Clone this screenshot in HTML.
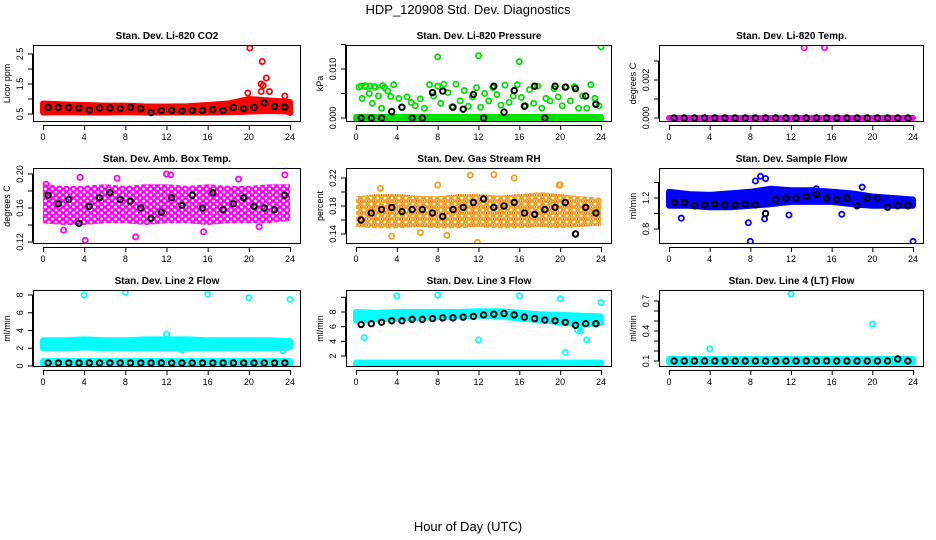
<!DOCTYPE html>
<html><head><meta charset="utf-8"><style>
html,body{margin:0;padding:0;background:#fff}
svg{display:block;font-family:"Liberation Sans",Arial,sans-serif}
</style></head><body>
<svg id="chart" width="936" height="540" viewBox="0 0 936 540" xmlns="http://www.w3.org/2000/svg">
<defs id="defs"></defs>
<text x="468" y="14" text-anchor="middle" font-size="13">HDP_120908  Std. Dev. Diagnostics</text>
<text x="468" y="531" text-anchor="middle" font-size="13">Hour of Day (UTC)</text>
</svg>
<script>
const xTicks=[0,4,8,12,16,20,24];
const bandHours=[0,2,4,6,8,10,12,14,16,18,20,22,24];
const meanHours=[0.5,1.5,2.5,3.5,4.5,5.5,6.5,7.5,8.5,9.5,10.5,11.5,12.5,13.5,14.5,15.5,16.5,17.5,18.5,19.5,20.5,21.5,22.5,23.5];

// Panel 1 CO2
const co2Lo=[0.55,0.56,0.55,0.55,0.56,0.55,0.55,0.55,0.55,0.56,0.58,0.6,0.58];
const co2Hi=[0.85,0.82,0.8,0.78,0.78,0.75,0.75,0.76,0.8,0.85,1.0,0.95,0.9];
const co2Mean=[0.72,0.72,0.72,0.7,0.63,0.7,0.7,0.68,0.72,0.68,0.55,0.62,0.62,0.6,0.62,0.62,0.65,0.62,0.72,0.68,0.72,0.87,0.75,0.73];
const co2OutX=[19.9,20.1,21.2,21.3,21.4,21.7,22,21.2,23.5,24];
const co2OutY=[1.2,2.7,1.5,2.25,1.45,1.7,1.25,1.25,1.1,0.55];
// Panel 2 Pressure
const presLo=[-0.0002,-0.0002,-0.0002,-0.0002,-0.0002,-0.0002,-0.0002,-0.0002,-0.0002,-0.0002,-0.0002,-0.0002,-0.0002];
const presHi=[0.0002,0.0002,0.0002,0.0002,0.0002,0.0002,0.0002,0.0002,0.0002,0.0002,0.0002,0.0002,0.0002];
const presMean=[0,0,0,0.0013,0.0022,0,0,0.0052,0.0055,0.0022,0.0018,0.0048,0,0.0065,0.0012,0.0056,0.0024,0.0065,0,0.0065,0.0063,0.006,0.0045,0.0028];
const presOutX=[0.3,0.6,1,1.3,1.6,1.9,2.2,2.5,2.8,3.1,3.4,3.7,4.2,4.5,5,5.4,5.8,6.3,6.7,7.2,7.6,8,8.3,8.6,9,9.4,9.8,10.2,10.6,11,11.4,11.8,12.2,12.6,13,13.4,13.8,14.2,14.6,15,15.4,15.8,16.2,16.6,17,17.4,17.8,18.2,18.6,19,19.4,19.8,20.2,20.6,21,21.4,21.8,22.2,22.6,23,23.4,23.8,8,12,16,24,0.5,0.9,1.4,1.8,2.6];
const presOutY=[0.0063,0.004,0.0064,0.005,0.003,0.0063,0.0045,0.002,0.0062,0.0055,0.0044,0.0068,0.004,0.0022,0.0043,0.0032,0.0025,0.0039,0.002,0.0068,0.0045,0.0065,0.003,0.0069,0.0052,0.0023,0.0069,0.0035,0.0056,0.0024,0.0043,0.0062,0.0022,0.005,0.0035,0.0062,0.0048,0.0026,0.0067,0.0032,0.0045,0.0068,0.0042,0.0025,0.0058,0.003,0.0065,0.002,0.004,0.0035,0.006,0.0043,0.0025,0.0063,0.0035,0.0064,0.002,0.0045,0.002,0.0068,0.004,0.0025,0.0125,0.0127,0.0115,0.0145,0.0065,0.0066,0.0065,0.0064,0.0066];
// Panel 3 Temp
const tempLo=[0,0,0,0,0,0,0,0,0,0,0,0,0];
const tempHi=[0,0,0,0,0,0,0,0,0,0,0,0,0];
const tempMean=[0,0,0,0,0,0,0,0,0,0,0,0,0,0,0,0,0,0,0,0,0,0,0,0];
const tempOutX=[13.3,15.3];
const tempOutY=[0.0037,0.0037];
// Panel 4 Amb Box Temp
const ambLo=[0.142,0.14,0.14,0.142,0.142,0.14,0.142,0.142,0.14,0.142,0.142,0.142,0.145];
const ambHi=[0.188,0.186,0.186,0.188,0.186,0.188,0.188,0.186,0.188,0.186,0.186,0.188,0.188];
const ambMean=[0.175,0.165,0.170,0.142,0.162,0.172,0.178,0.170,0.168,0.160,0.148,0.155,0.172,0.163,0.175,0.160,0.178,0.158,0.165,0.172,0.162,0.160,0.158,0.175];
const ambOutX=[0.3,3.6,7.2,12,12.4,19,23.5,4.1,9,15.6,2,21];
const ambOutY=[0.188,0.196,0.195,0.200,0.199,0.194,0.199,0.122,0.126,0.132,0.134,0.138];
// Panel 5 RH
const rhLo=[0.150,0.148,0.148,0.150,0.148,0.148,0.150,0.148,0.148,0.150,0.148,0.150,0.152];
const rhHi=[0.194,0.197,0.197,0.195,0.194,0.197,0.197,0.195,0.197,0.2,0.197,0.194,0.192];
const rhMean=[0.160,0.170,0.175,0.178,0.172,0.175,0.175,0.170,0.165,0.175,0.178,0.185,0.190,0.178,0.180,0.185,0.170,0.168,0.175,0.178,0.185,0.140,0.178,0.170];
const rhOutX=[2.4,8,11.2,13.5,15.5,20,3.5,6.3,8.9,11.9,19.9];
const rhOutY=[0.205,0.21,0.224,0.225,0.22,0.21,0.137,0.142,0.138,0.128,0.21];
// Panel 6 Sample Flow
const flowLo=[1.1,1.1,1.08,1.08,1.1,1.12,1.15,1.15,1.15,1.12,1.1,1.1,1.1];
const flowHi=[1.28,1.25,1.24,1.26,1.28,1.32,1.3,1.3,1.28,1.26,1.22,1.2,1.18];
const flowMean=[1.14,1.14,1.1,1.11,1.12,1.11,1.11,1.12,1.11,1.0,1.18,1.2,1.2,1.22,1.25,1.2,1.18,1.2,1.1,1.2,1.2,1.08,1.1,1.1];
const flowOutX=[8,24,1.2,7.8,8.5,9,9.5,14.5,19,17,9.4,11.8];
const flowOutY=[0.64,0.64,0.94,0.88,1.42,1.48,1.45,1.32,1.34,0.99,0.93,0.98];
// Panel 7 Line 2 Flow
const l2Lo=[2.0,2.0,2.1,2.0,2.0,2.0,2.0,2.0,2.0,2.0,2.0,2.0,2.1];
const l2Hi=[2.9,2.9,3.0,2.9,2.9,3.0,3.0,3.0,2.9,2.9,2.9,2.9,2.8];
const l2Mean=[0.35,0.35,0.35,0.35,0.35,0.35,0.35,0.35,0.35,0.35,0.35,0.35,0.35,0.35,0.35,0.35,0.35,0.35,0.35,0.35,0.35,0.35,0.35,0.35];
const l2OutX=[4,8,16,20,24,12,23.3,13.5];
const l2OutY=[8,8.3,8.1,7.7,7.5,3.6,1.7,1.8];
const l2BaseLo=[0.2,0.2,0.2,0.2,0.2,0.2,0.2,0.2,0.2,0.2,0.2,0.2,0.2];
const l2BaseHi=[0.55,0.55,0.55,0.55,0.55,0.55,0.55,0.55,0.55,0.55,0.55,0.55,0.55];
// Panel 8 Line 3 Flow
const l3Lo=[6.8,7.0,7.1,7.2,7.3,7.4,7.5,7.4,7.1,6.9,6.6,6.3,6.5];
const l3Hi=[8.0,7.9,8.0,8.0,8.0,8.0,8.1,8.1,7.9,7.7,7.6,7.5,7.4];
const l3Mean=[6.3,6.4,6.6,6.8,6.8,7.0,7.0,7.1,7.2,7.2,7.3,7.4,7.6,7.7,7.8,7.6,7.3,7.1,6.9,6.8,6.6,6.2,6.4,6.4];
const l3OutX=[4,8,12,16,20,24,22,22.6,21.7,0.8,20.5];
const l3OutY=[10.2,10.3,4.2,10.2,9.8,9.3,5.4,4.2,5.5,4.5,2.5];
const l3BaseLo=[0.9,0.9,0.9,0.9,0.9,0.9,0.9,0.9,0.9,0.9,0.9,0.9,0.9];
const l3BaseHi=[1.1,1.1,1.1,1.1,1.1,1.1,1.1,1.1,1.1,1.1,1.1,1.1,1.1];
// Panel 9 Line 4 Flow
const l4Lo=[0.085,0.085,0.085,0.085,0.085,0.085,0.085,0.085,0.085,0.085,0.085,0.085,0.085];
const l4Hi=[0.12,0.12,0.12,0.12,0.12,0.12,0.12,0.12,0.12,0.12,0.12,0.12,0.12];
const l4Mean=[0.1,0.1,0.1,0.1,0.1,0.1,0.1,0.1,0.1,0.1,0.1,0.1,0.1,0.1,0.1,0.1,0.1,0.1,0.1,0.1,0.1,0.1,0.12,0.1];
const l4OutX=[4,12,20];
const l4OutY=[0.22,0.77,0.47];

const panels=[
 {name:'co2',title:'Stan. Dev. Li-820 CO2',ylab:'Licor ppm',col:0,row:0,c:'#ff0000',tex:false,v0:0.5,p0:114,v1:2.5,p1:54,ticks:[0.5,1,1.5,2,2.5],labs:['0.5','','1.5','','2.5'],lo:co2Lo,hi:co2Hi,mean:co2Mean,ox:co2OutX,oy:co2OutY},
 {name:'pressure',title:'Stan. Dev. Li-820 Pressure',ylab:'kPa',col:1,row:0,c:'#00e000',tex:false,v0:0,p0:118,v1:0.01,p1:69,ticks:[0,0.005,0.01,0.015],labs:['0.000','','0.010',''],lo:presLo,hi:presHi,mean:presMean,ox:presOutX,oy:presOutY},
 {name:'temp',title:'Stan. Dev. Li-820 Temp.',ylab:'degrees C',col:2,row:0,c:'#ff00ff',tex:false,v0:0,p0:118,v1:0.002,p1:80,ticks:[0,0.001,0.002,0.003],labs:['0.000','','0.002',''],lo:tempLo,hi:tempHi,mean:tempMean,ox:tempOutX,oy:tempOutY},
 {name:'amb-temp',title:'Stan. Dev. Amb. Box Temp.',ylab:'degrees C',col:0,row:1,c:'#ff00ff',tex:true,v0:0.12,p0:242,v1:0.2,p1:174,ticks:[0.12,0.14,0.16,0.18,0.2],labs:['0.12','','0.16','','0.20'],lo:ambLo,hi:ambHi,mean:ambMean,ox:ambOutX,oy:ambOutY},
 {name:'rh',title:'Stan. Dev. Gas Stream RH',ylab:'percent',col:1,row:1,c:'#f2a01c',tex:true,v0:0.14,p0:234,v1:0.22,p1:178,ticks:[0.14,0.16,0.18,0.2,0.22],labs:['0.14','','0.18','','0.22'],lo:rhLo,hi:rhHi,mean:rhMean,ox:rhOutX,oy:rhOutY},
 {name:'sample-flow',title:'Stan. Dev. Sample Flow',ylab:'ml/min',col:2,row:1,c:'#0000ff',tex:false,v0:0.8,p0:229,v1:1.2,p1:198,ticks:[0.8,1,1.2,1.4],labs:['0.8','','1.2',''],lo:flowLo,hi:flowHi,mean:flowMean,ox:flowOutX,oy:flowOutY},
 {name:'line2-flow',title:'Stan. Dev. Line 2 Flow',ylab:'ml/min',col:0,row:2,c:'#00ffff',tex:false,v0:0,p0:366,v1:8,p1:295,ticks:[0,2,4,6,8],labs:['0','2','4','6','8'],lo:l2Lo,hi:l2Hi,lo2:l2BaseLo,hi2:l2BaseHi,mean:l2Mean,ox:l2OutX,oy:l2OutY},
 {name:'line3-flow',title:'Stan. Dev. Line 3 Flow',ylab:'ml/min',col:1,row:2,c:'#00ffff',tex:false,v0:2,p0:356,v1:8,p1:312,ticks:[2,4,6,8,10],labs:['2','4','6','8',''],lo:l3Lo,hi:l3Hi,lo2:l3BaseLo,hi2:l3BaseHi,mean:l3Mean,ox:l3OutX,oy:l3OutY},
 {name:'line4-flow',title:'Stan. Dev. Line 4 (LT) Flow',ylab:'ml/min',col:2,row:2,c:'#00ffff',tex:false,v0:0.1,p0:361,v1:0.7,p1:301,ticks:[0.1,0.2,0.3,0.4,0.5,0.6,0.7],labs:['0.1','','','0.4','','','0.7'],lo:l4Lo,hi:l4Hi,mean:l4Mean,ox:l4OutX,oy:l4OutY}
];
const colsX=[[33,301],[346,612],[659,924]];
const rowsY=[[45,122],[168,244],[290,367]];
const NS='http://www.w3.org/2000/svg';
const svg=document.getElementById('chart');
const defs=document.getElementById('defs');
function mk(tag,attrs,parent,txt){const e=document.createElementNS(NS,tag);for(const k in attrs)e.setAttribute(k,attrs[k]);if(txt!==undefined)e.textContent=txt;parent.appendChild(e);return e;}
panels.forEach(p=>{
 const [L,R]=colsX[p.col],[T,B]=rowsY[p.row];
 const xs=h=>L+10+(h/24)*(R-L-21);
 const ys=v=>p.p0+(v-p.v0)*(p.p1-p.p0)/(p.v1-p.v0);
 let fill=p.c;
 if(p.tex){
  const pat=mk('pattern',{id:'pat-'+p.name,width:7,height:6,patternUnits:'userSpaceOnUse'},defs);
  mk('rect',{x:0,y:0,width:7,height:6,fill:'#fff'},pat);
  [[3.5,3],[0,0],[7,6],[0,6],[7,0]].forEach(q=>mk('circle',{cx:q[0],cy:q[1],r:2.3,fill:'none',stroke:p.c,'stroke-width':1.8},pat));
  if(p.name==='rh')mk('circle',{cx:3.5,cy:3,r:0.8,fill:'#ff0000'},pat);
  fill='url(#pat-'+p.name+')';
 }
 const g=mk('g',{},svg);
 
 
 const clip=mk('clipPath',{id:'clip-'+p.name},g);
 mk('rect',{x:L,y:T,width:R-L,height:B-T},clip);
 const pg=mk('g',{'clip-path':'url(#clip-'+p.name+')'},g);
 function band(lo,hi,nm){
  let pts=bandHours.map((h,i)=>xs(h)+','+ys(hi[i]));
  pts=pts.concat(bandHours.slice().reverse().map((h,i)=>xs(h)+','+ys(lo[lo.length-1-i])));
  const b=mk('polygon',{points:pts.join(' '),fill:fill,stroke:p.tex?'none':p.c,'stroke-width':6,'stroke-linejoin':'round'},pg);
  
  
 }
 band(p.lo,p.hi,p.name+'-band');
 if(p.lo2)band(p.lo2,p.hi2,p.name+'-base-band');
 p.ox.forEach((h,i)=>{
  const c=mk('circle',{cx:xs(h),cy:ys(p.oy[i]),r:2.6,fill:'none',stroke:p.c,'stroke-width':1.8},pg);
  
  
 });
 p.mean.forEach((v,i)=>{
  const c=mk('circle',{cx:xs(meanHours[i]),cy:ys(v),r:2.7,fill:'none',stroke:'#000','stroke-width':2},pg);
  
  
 });
 const box=mk('rect',{x:L+0.5,y:T+0.5,width:R-L-1,height:B-T-1,fill:'none',stroke:'#000','stroke-width':1},g);
 
 
 const t=mk('text',{x:(L+R)/2,y:T-6,'text-anchor':'middle','font-size':10,'font-weight':'bold'},g,p.title);
 
 
 const ax=mk('g',{},g);
 
 
 mk('line',{x1:xs(0),x2:xs(24),y1:B+3.5,y2:B+3.5,stroke:'#000'},ax);
 xTicks.forEach(h=>{
  mk('line',{x1:xs(h)+0.5,x2:xs(h)+0.5,y1:B+3,y2:B+8,stroke:'#000'},ax);
  mk('text',{x:xs(h),y:B+18,'text-anchor':'middle','font-size':9},ax,String(h));
 });
 const ay=mk('g',{},g);
 
 
 const yt=p.ticks.map(ys);
 mk('line',{x1:L-0.5,x2:L-0.5,y1:Math.min(...yt),y2:Math.max(...yt),stroke:'#000'},ay);
 p.ticks.forEach((v,i)=>{
  const y=ys(v);
  mk('line',{x1:L-5,x2:L,y1:y,y2:y,stroke:'#000'},ay);
  if(p.labs[i])mk('text',{x:L-10,y:y,'text-anchor':'middle','font-size':9,transform:`rotate(-90 ${L-10} ${y})`},ay,p.labs[i]);
 });
 const yl=mk('text',{x:L-23,y:(T+B)/2,'text-anchor':'middle','font-size':9,transform:`rotate(-90 ${L-23} ${(T+B)/2})`},g,p.ylab);
 
 
});
</script>
</body></html>
